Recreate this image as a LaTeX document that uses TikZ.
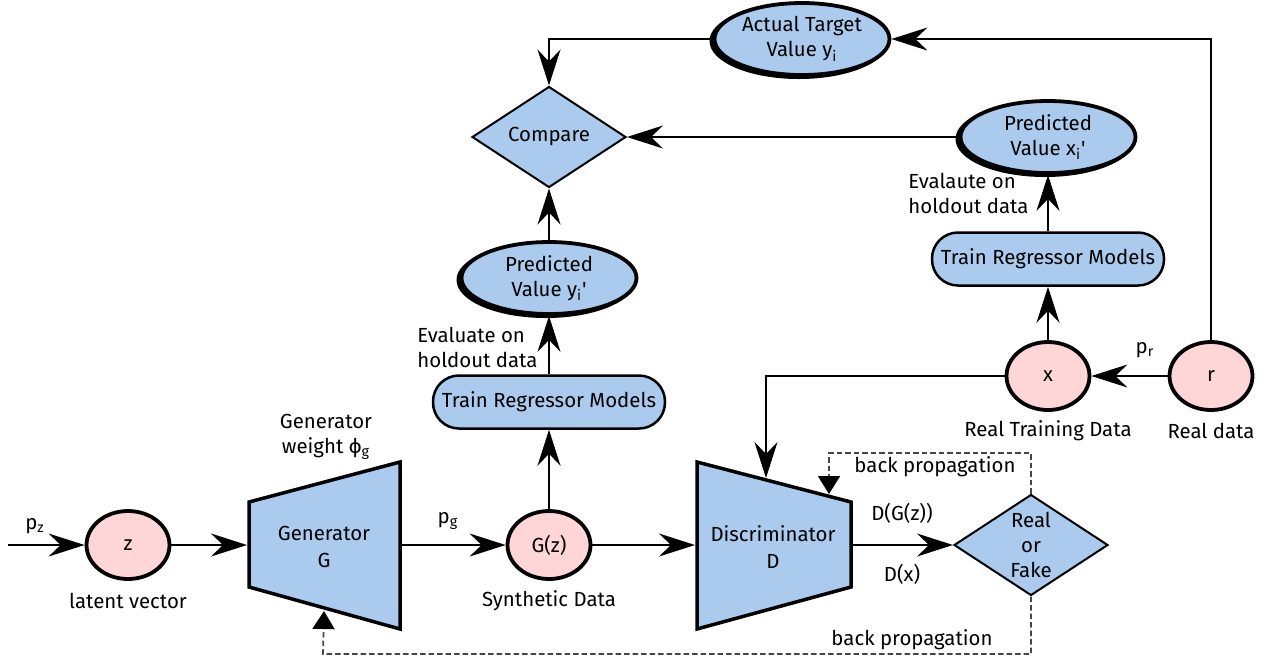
\documentclass[tikz,border=0pt]{standalone}
\usepackage{fontspec}
\setmainfont{Fira Sans}[Ligatures=TeXOff]
\usetikzlibrary{arrows.meta,shapes.geometric}

\definecolor{nodeblue}{RGB}{170,203,237}
\definecolor{nodepink}{RGB}{255,214,216}
\definecolor{bpgray}{RGB}{70,70,70}

\begin{document}
\begin{tikzpicture}[x=0.5pt,y=-0.5pt,
  font=\fontsize{10.2pt}{12.5pt}\selectfont,
  flow/.style={line width=0.75pt,
    -{Stealth[length=18pt,width=11.5pt,inset=6pt]}},
  backprop/.style={line width=0.85pt, draw=bpgray,
    dash pattern=on 2.75pt off 1.5pt,
    -{Triangle[length=9pt,width=11pt,black]}},
  datanode/.style={ellipse, draw, line width=1.9pt, fill=nodepink,
    minimum width=41.5pt, minimum height=34pt, inner sep=0pt},
  valuenode/.style={ellipse, draw, line width=1.9pt, fill=nodeblue,
    minimum width=87.5pt, minimum height=36pt, inner sep=0pt, align=center},
  valueshadow/.style={ellipse, fill=black,
    minimum width=89.5pt, minimum height=38pt, inner sep=0pt},
  trainnode/.style={rectangle, rounded corners=13pt, draw, line width=1.25pt,
    fill=nodeblue, minimum width=116pt, minimum height=26.5pt, inner sep=0pt},
  decision/.style={diamond, draw, line width=1pt, fill=nodeblue, aspect=1.5,
    minimum width=77pt, minimum height=50.5pt, inner sep=0pt, align=center},
  netbody/.style={draw, line width=1.75pt, fill=nodeblue, line join=miter},
  nettext/.style={align=center, font=\fontsize{10.2pt}{13.5pt}\selectfont},
  caption/.style={align=center},
  sidenote/.style={anchor=west, align=left, inner sep=0pt},
]
\useasboundingbox (0,0) rectangle (1271,661);

% ---------- generator branch ----------
\coordinate (in) at (8,545);
\node[datanode] (z) at (128,545) {z};
\node[caption] (pzl) at (35,526) {p\textsubscript{z}};
\node[caption] (latl) at (128,601) {latent vector};

\coordinate (g1) at (249,502);
\coordinate (g2) at (400,462);
\coordinate (g3) at (400,629);
\coordinate (g4) at (249,587);
\draw[netbody] (g1) -- (g2) -- (g3) -- (g4) -- cycle;
\node[nettext] (gen) at (324,547) {Generator\\G};
\coordinate (gen-w) at (247,545);
\coordinate (gen-e) at (402,545);
\coordinate (gen-s) at (324,611);
\node[caption] (gwl) at (326,437) {Generator\\weight ϕ\textsubscript{g}};

\node[caption] (pgl) at (448,521) {p\textsubscript{g}};
\node[datanode] (gz) at (549,545) {G(z)};
\node[caption] (synl) at (549,601) {Synthetic Data};

% ---------- discriminator ----------
\coordinate (d1) at (697,462);
\coordinate (d2) at (851,502);
\coordinate (d3) at (851,587);
\coordinate (d4) at (697,629);
\draw[netbody] (d1) -- (d2) -- (d3) -- (d4) -- cycle;
\node[nettext] (disc) at (773,547) {Discriminator\\D};
\coordinate (disc-w) at (695,545);
\coordinate (disc-e) at (853,545);
\coordinate (disc-top) at (766,478);
\coordinate (disc-bp) at (829,494);

\node[decision] (rf) at (1031,545) {Real\\or\\Fake};
\node[caption] (dgz) at (902,513) {D(G(z))};
\node[caption] (dx) at (902,574) {D(x)};

% ---------- regressor on synthetic data ----------
\node[trainnode] (trm1) at (549,402) {Train Regressor Models};
\node[valueshadow] (py-sh) at (546,280) {};
\node[valuenode] (py) at (549,278) {Predicted\\Value y\textsubscript{i}'};
\node[sidenote] (ev1) at (417,347) {Evaluate on\\holdout data};

\node[decision] (cmp) at (549,137) {Compare};

\node[valueshadow] (act-sh) at (799,41) {};
\node[valuenode] (act) at (802,39) {Actual Target\\Value y\textsubscript{i}};

% ---------- regressor on real data ----------
\node[valueshadow] (px-sh) at (1045,139) {};
\node[valuenode] (px) at (1048,137) {Predicted\\Value x\textsubscript{i}'};
\node[sidenote] (ev2) at (908,193) {Evalaute on\\holdout data};
\node[trainnode] (trm2) at (1048,259) {Train Regressor Models};

\node[datanode] (x) at (1048,376) {x};
\node[datanode] (r) at (1211,376) {r};
\node[caption] (prl) at (1145,350) {p\textsubscript{r}};
\node[caption] (rtl) at (1048,431) {Real Training Data};
\node[caption] (rdl) at (1211,431) {Real data};

% ---------- connectors ----------
\draw[flow] (in) -- (z);
\draw[flow] (z) -- (gen-w);
\draw[flow] (gen-e) -- (gz);
\draw[flow] (gz) -- (disc-w);
\draw[flow] (gz) -- (trm1);
\draw[flow] (trm1) -- (py);
\draw[flow] (py) -- (cmp);
\draw[flow] (act.west) -| (cmp.north);
\draw[flow] (px) -- (cmp);
\draw[flow] (trm2) -- (px);
\draw[flow] (x) -- (trm2);
\draw[flow] (r) -- (x);
\draw[flow] (r.north) |- (act.east);
\draw[flow] (x.west) -| (disc-top);
\draw[flow] (disc-e) -- (rf.west);

% ---------- back propagation ----------
\coordinate (bp1) at (829,453);
\coordinate (bp2) at (323,654);
\draw[backprop] (rf.north) |- (bp1) -- (disc-bp);
\draw[backprop] (rf.south) |- (bp2) -- (gen-s);
\node[caption] (bpl1) at (935,467) {back propagation};
\node[caption] (bpl2) at (912,640) {back propagation};
\end{tikzpicture}
\end{document}
